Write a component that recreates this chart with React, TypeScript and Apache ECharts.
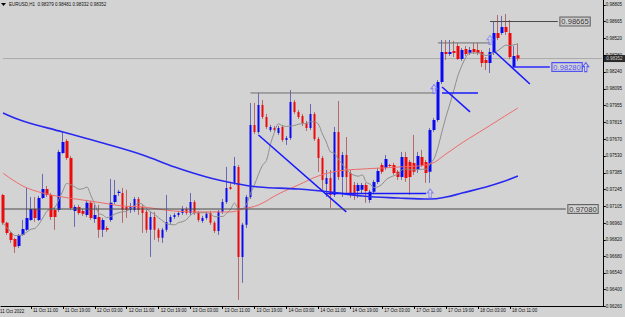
import React, { useEffect, useRef } from "react";
import * as echarts from "echarts";

// ---------- data ----------
const symbolName = "EURUSD,H1";
const sessions: [string, number, number][] = [
  ["11 Oct", 4, 23], ["12 Oct", 0, 23], ["13 Oct", 0, 23], ["14 Oct", 0, 23],
  ["17 Oct", 0, 23], ["18 Oct", 0, 23], ["19 Oct", 0, 23],
];
const slotCount = 151;

const opens = [
  0.97199, 0.96963, 0.96878, 0.96827, 0.96768, 0.96861, 0.96904, 0.96988, 0.97081, 0.96988,
  0.97174, 0.97250, 0.97199, 0.97072, 0.97072, 0.97554, 0.97656, 0.97512, 0.97064, 0.97098,
  0.97064, 0.97030, 0.97132, 0.96996, 0.97013, 0.96904, 0.96920, 0.96988, 0.97140, 0.97216,
  0.97216, 0.97098, 0.97072, 0.97072, 0.97165, 0.97098, 0.97056, 0.96904, 0.97013, 0.96904,
  0.96836, 0.96904, 0.96971, 0.97013, 0.97030, 0.97047, 0.97081, 0.97047, 0.97140, 0.97047,
  0.96979, 0.97005, 0.97047, 0.96963, 0.96895, 0.97056, 0.97140, 0.97267, 0.97301, 0.97436,
  0.96675, 0.96946, 0.97182, 0.97791, 0.97732, 0.97960, 0.97858, 0.97748, 0.97765, 0.97723,
  0.97774, 0.97664, 0.97681, 0.97985, 0.97901, 0.97867, 0.97808, 0.97765, 0.97884, 0.97672,
  0.97512, 0.97292, 0.97343, 0.97199, 0.97732, 0.97351, 0.97537, 0.97385, 0.97284, 0.97233,
  0.97242, 0.97284, 0.97157, 0.97225, 0.97309, 0.97453, 0.97427, 0.97453, 0.97453, 0.97394,
  0.97351, 0.97520, 0.97478, 0.97470, 0.97410, 0.97520, 0.97478, 0.97394, 0.97748, 0.97833,
  0.98154, 0.98408, 0.98391, 0.98416, 0.98458, 0.98348, 0.98433, 0.98399, 0.98433, 0.98424,
  0.98408, 0.98340, 0.98315, 0.98399, 0.98568, 0.98568, 0.98619, 0.98568, 0.98281, 0.98379,
];
const closes = [
  0.96963, 0.96878, 0.96819, 0.96760, 0.96861, 0.96912, 0.97005, 0.97081, 0.97005, 0.97174,
  0.97250, 0.97199, 0.97013, 0.97013, 0.97563, 0.97647, 0.97512, 0.97089, 0.97098, 0.97047,
  0.97039, 0.97132, 0.97005, 0.97030, 0.96904, 0.96988, 0.96904, 0.97132, 0.97199, 0.97225,
  0.97072, 0.97072, 0.97098, 0.97165, 0.97072, 0.97047, 0.96904, 0.97013, 0.96904, 0.96836,
  0.96904, 0.96971, 0.97013, 0.97030, 0.97047, 0.97081, 0.97047, 0.97140, 0.97047, 0.96988,
  0.97005, 0.97039, 0.96963, 0.96895, 0.97056, 0.97140, 0.97258, 0.97250, 0.97444, 0.96675,
  0.96946, 0.97182, 0.97791, 0.97732, 0.97960, 0.97858, 0.97774, 0.97774, 0.97748, 0.97765,
  0.97664, 0.97681, 0.97985, 0.97901, 0.97858, 0.97808, 0.97765, 0.97884, 0.97672, 0.97512,
  0.97326, 0.97343, 0.97199, 0.97732, 0.97351, 0.97537, 0.97351, 0.97216, 0.97191, 0.97284,
  0.97284, 0.97233, 0.97225, 0.97309, 0.97402, 0.97394, 0.97503, 0.97444, 0.97385, 0.97351,
  0.97520, 0.97343, 0.97351, 0.97394, 0.97529, 0.97453, 0.97385, 0.97748, 0.97833, 0.98154,
  0.98408, 0.98391, 0.98408, 0.98399, 0.98348, 0.98424, 0.98391, 0.98424, 0.98408, 0.98399,
  0.98315, 0.98315, 0.98408, 0.98568, 0.98526, 0.98619, 0.98577, 0.98365, 0.98374, 0.98352,
];
const lows = [
  0.96946, 0.96861, 0.96794, 0.96709, 0.96751, 0.96853, 0.96895, 0.96979, 0.96971, 0.96979,
  0.97165, 0.97182, 0.96988, 0.96904, 0.97056, 0.97546, 0.97495, 0.97072, 0.96929, 0.97030,
  0.97022, 0.97013, 0.96988, 0.96963, 0.96836, 0.96844, 0.96887, 0.96971, 0.97123, 0.97191,
  0.96963, 0.97005, 0.97047, 0.97056, 0.97030, 0.96878, 0.96878, 0.96675, 0.96819, 0.96802,
  0.96794, 0.96887, 0.96954, 0.96996, 0.97013, 0.97030, 0.97030, 0.97030, 0.97030, 0.96971,
  0.96963, 0.96988, 0.96946, 0.96878, 0.96861, 0.97039, 0.97123, 0.97242, 0.97284, 0.96312,
  0.96456, 0.96920, 0.97165, 0.97715, 0.97715, 0.97841, 0.97757, 0.97732, 0.97732, 0.97706,
  0.97647, 0.97622, 0.97664, 0.97884, 0.97841, 0.97782, 0.97740, 0.97748, 0.97656, 0.97394,
  0.97242, 0.97182, 0.97089, 0.97182, 0.97326, 0.97182, 0.97216, 0.97174, 0.97157, 0.97174,
  0.97208, 0.97132, 0.97132, 0.97208, 0.97292, 0.97377, 0.97410, 0.97436, 0.97368, 0.97326,
  0.97326, 0.97309, 0.97199, 0.97368, 0.97385, 0.97436, 0.97301, 0.97301, 0.97732, 0.97816,
  0.98137, 0.98340, 0.98374, 0.98365, 0.98340, 0.98332, 0.98374, 0.98382, 0.98391, 0.98382,
  0.98281, 0.98255, 0.98230, 0.98382, 0.98509, 0.98551, 0.98551, 0.98348, 0.98272, 0.98332,
];
const highs = [
  0.97208, 0.96971, 0.96887, 0.96836, 0.96870, 0.96988, 0.97258, 0.97182, 0.97182, 0.97191,
  0.97377, 0.97275, 0.97216, 0.97098, 0.97580, 0.97732, 0.97672, 0.97529, 0.97115, 0.97115,
  0.97081, 0.97157, 0.97149, 0.97115, 0.97115, 0.97005, 0.96937, 0.97334, 0.97326, 0.97242,
  0.97258, 0.97242, 0.97132, 0.97182, 0.97182, 0.97115, 0.97072, 0.97056, 0.97056, 0.96920,
  0.96920, 0.97199, 0.97030, 0.97047, 0.97064, 0.97106, 0.97098, 0.97216, 0.97157, 0.97064,
  0.97022, 0.97056, 0.97064, 0.96979, 0.97072, 0.97165, 0.97436, 0.97309, 0.97520, 0.97453,
  0.96963, 0.97199, 0.97977, 0.97977, 0.98061, 0.98002, 0.97884, 0.97791, 0.97782, 0.97782,
  0.97791, 0.97698, 0.98086, 0.98002, 0.97917, 0.97884, 0.97825, 0.97968, 0.97901, 0.97689,
  0.97529, 0.97410, 0.97410, 0.97774, 0.97993, 0.97563, 0.97689, 0.97410, 0.97309, 0.97301,
  0.97301, 0.97301, 0.97242, 0.97326, 0.97427, 0.97470, 0.97537, 0.97461, 0.97470, 0.97410,
  0.97563, 0.97563, 0.97495, 0.97706, 0.97563, 0.97580, 0.97495, 0.97765, 0.97850, 0.98171,
  0.98509, 0.98509, 0.98509, 0.98501, 0.98484, 0.98441, 0.98458, 0.98450, 0.98484, 0.98484,
  0.98424, 0.98365, 0.98441, 0.98661, 0.98720, 0.98712, 0.98729, 0.98678, 0.98458, 0.98481,
];

const xTickLabels = [
  "11 Oct 11:00", "11 Oct 19:00", "12 Oct 03:00", "12 Oct 11:00", "12 Oct 19:00",
  "13 Oct 03:00", "13 Oct 11:00", "13 Oct 19:00", "14 Oct 03:00", "14 Oct 11:00",
  "14 Oct 19:00", "17 Oct 03:00", "17 Oct 11:00", "17 Oct 19:00", "18 Oct 03:00",
  "18 Oct 11:00",
];
const firstDateLabel = "11 Oct 2022";
const yTickValues = [
  0.98805, 0.98665, 0.9852, 0.9838, 0.9824, 0.98095, 0.97955, 0.97815, 0.9767, 0.9753,
  0.97385, 0.97245, 0.97105, 0.9696, 0.9682, 0.9668, 0.9654, 0.964, 0.9626,
];
const yMin = 0.9626;
const yMax = 0.98847;

// moving averages: [slot index, price]
const redMA = [
  [0, 0.97384], [5, 0.97274], [10, 0.97215], [15, 0.97181], [20, 0.97156], [25, 0.97131],
  [30, 0.97105], [35, 0.97097], [43, 0.97063], [51, 0.97055], [57, 0.97055], [60, 0.9708],
  [64, 0.97114], [69, 0.97207], [74, 0.97283], [79, 0.97359], [84, 0.97401], [90, 0.97418],
  [99, 0.97435], [107, 0.97461], [111, 0.97546], [115, 0.97639], [121, 0.97765],
  [125, 0.9785], [129, 0.97934],
];
const blueMA = [
  [0, 0.97892], [5, 0.97824], [15, 0.97731], [25, 0.97638], [35, 0.97537], [43, 0.97435],
  [51, 0.97351], [59, 0.97291], [64, 0.97266], [74, 0.97249], [82, 0.97224], [90, 0.9719],
  [99, 0.97173], [107, 0.97164], [111, 0.97181], [115, 0.97215], [121, 0.97266],
  [125, 0.97308], [129, 0.97359],
];
const fastMAPeriod = 8;

// drawn objects
const blueTrendLines = [
  [[64, 0.97706], [86, 0.97056]],
  [[81, 0.97212], [106, 0.97212]],
  [[110, 0.98061], [119, 0.98061]],
  [[110, 0.98112], [117, 0.97901]],
  [[123, 0.98416], [132, 0.98137]],
];
const grayLines = [
  [[62, 0.98061], [108, 0.98061]],
  [[109, 0.98484], [122, 0.98484]],
];
const levelValues = [0.98665, 0.9828, 0.9708];
const levelFrom = [122, 128, 0];
const levelTo = [139, 137, 141];
const levelColors = ["#4a4a4a", "#2a2aff", "#4a4a4a"];
const arrowPoints = [[107, 0.97212], [108, 0.98095], [122, 0.98509], [146, 0.9828]];
const arrowColors = ["#7070ff", "#7070ff", "#8080ff", "#3a3aff"];

// ---------- chart ----------
const BG = "#d3d3d3";
const FONT = "'Liberation Sans', Arial, sans-serif";
const SMALL = 4.5;

function buildCategories(): string[] {
  const out: string[] = [];
  for (const [day, h0, h1] of sessions) {
    for (let h = h0; h <= h1; h++) {
      out.push(`${day} ${String(h).padStart(2, "0")}:00`);
    }
  }
  return out.slice(0, slotCount);
}

export default function App() {
  const ref = useRef<HTMLDivElement>(null);

  useEffect(() => {
    if (!ref.current) return;
    const chart = echarts.init(ref.current, null, { renderer: "svg" });
    const categories = buildCategories();
    const candles = opens.map((o, k) => [o, closes[k], lows[k], highs[k]]);
    const fastMA = closes.map((_, k) => {
      const s = Math.max(0, k - fastMAPeriod + 1);
      const w = closes.slice(s, k + 1);
      return [k, w.reduce((a, b) => a + b, 0) / w.length];
    });
    const n = closes.length - 1;
    const bid = closes[n];
    const isTick = (_i: number, v: string) => xTickLabels.includes(v);
    const hidden = "rgba(0,0,0,0)";

    const series: any[] = [
      {
        type: "candlestick",
        data: candles,
        barWidth: 1,
        silent: true,
        z: 2,
        itemStyle: {
          color: "#6a6ab4", color0: "#b46a6a",
          borderColor: "#6a6ab4", borderColor0: "#b46a6a", borderWidth: 1,
        },
      },
      {
        type: "candlestick",
        data: candles,
        barWidth: 3,
        silent: true,
        z: 3,
        itemStyle: {
          color: "#0a0af0", color0: "#ee0a0a",
          borderColor: "#0a0af0", borderColor0: "#ee0a0a", borderWidth: 0,
        },
      },
      {
        type: "line", data: [[0, bid], [slotCount - 1, bid]], symbol: "none", silent: true, z: 1,
        lineStyle: { color: "#ababab", width: 1 },
      },
      {
        type: "line", data: fastMA, symbol: "none", smooth: 0.3, silent: true, z: 4,
        lineStyle: { color: "#8e8e8e", width: 1 },
      },
      {
        type: "line", data: redMA, symbol: "none", smooth: 0.4, silent: true, z: 4,
        lineStyle: { color: "#ee6a6a", width: 1 },
      },
      {
        type: "line", data: blueMA, symbol: "none", smooth: 0.4, silent: true, z: 4,
        lineStyle: { color: "#2828f0", width: 1.6 },
      },
    ];

    grayLines.forEach((pts) =>
      series.push({
        type: "line", data: pts, symbol: "none", silent: true, z: 5,
        lineStyle: { color: "#6e6e6e", width: 1 },
      })
    );
    blueTrendLines.forEach((pts) =>
      series.push({
        type: "line", data: pts, symbol: "none", silent: true, z: 6,
        lineStyle: { color: "#1818ff", width: 1.5 },
      })
    );
    levelValues.forEach((v, k) =>
      series.push({
        type: "line",
        data: [[levelFrom[k], v], [levelTo[k], v]],
        symbol: "none", silent: true, z: 6,
        lineStyle: { color: levelColors[k], width: k === 1 ? 1.5 : 1 },
      })
    );
    // level labels (boxes) anchored at each level's end point
    series.push({
      type: "scatter",
      silent: true, z: 8, symbolSize: 1, clip: false,
      itemStyle: { color: hidden },
      data: levelValues.map((v, k) => ({
        value: [levelTo[k], v],
        label: {
          show: true, position: "right", distance: 2,
          formatter: () => v.toFixed(5),
          color: k === 1 ? "#2a2aff" : "#000",
          fontSize: 7.6, lineHeight: 7, fontFamily: FONT,
          borderColor: levelColors[k], borderWidth: 1,
          backgroundColor: BG, padding: [1, 1, 0, 1],
        },
      })),
    });
    // current price box on the price axis
    series.push({
      type: "scatter",
      silent: true, z: 9, symbolSize: 1, clip: false,
      itemStyle: { color: hidden },
      data: [{
        value: [slotCount - 1, bid],
        label: {
          show: true, position: "right", distance: 1,
          formatter: () => bid.toFixed(5),
          color: "#fff", backgroundColor: "#000",
          fontSize: SMALL, lineHeight: 5, fontFamily: FONT, padding: [1, 3, 1, 3],
        },
      }],
    });
    series.push({
      type: "scatter",
      data: arrowPoints.map((p, k) => ({
        value: p,
        itemStyle: { color: "none", borderColor: arrowColors[k], borderWidth: 1 },
      })),
      symbol: "path://M5 0 L10 5 L7 5 L7 11 L3 11 L3 5 L0 5 Z",
      symbolSize: [6, 9],
      silent: true, z: 7, clip: false,
    });

    chart.setOption({
      animation: false,
      backgroundColor: BG,
      grid: { left: 1, right: 20, top: 0, bottom: 11, containLabel: false },
      xAxis: {
        type: "category",
        data: categories,
        boundaryGap: true,
        axisLine: { show: true, lineStyle: { color: "#000", width: 1 } },
        axisTick: { show: true, alignWithLabel: true, interval: isTick, length: 3, lineStyle: { color: "#000" } },
        axisLabel: {
          interval: isTick, align: "left", margin: 2, padding: [0, 0, 0, 2],
          fontSize: SMALL, fontFamily: FONT, color: "#111",
        },
        splitLine: { show: false },
      },
      yAxis: {
        type: "value",
        position: "right",
        min: yMin, max: yMax, scale: true,
        axisLine: { show: true, lineStyle: { color: "#000", width: 1 } },
        axisTick: { show: true, length: 2, customValues: yTickValues, lineStyle: { color: "#000" } },
        axisLabel: {
          customValues: yTickValues, margin: 2,
          formatter: (v: number) => v.toFixed(5),
          fontSize: SMALL, fontFamily: FONT, color: "#111",
        },
        splitLine: { show: false },
      },
      graphic: [
        { type: "polygon", shape: { points: [[1, 3], [6, 3], [3.5, 6]] }, style: { fill: "#000" } },
        {
          type: "text", x: 9, y: 2,
          style: {
            text: `${symbolName}  ${opens[n].toFixed(5)} ${highs[n].toFixed(5)} ${lows[n].toFixed(5)} ${closes[n].toFixed(5)}`,
            fontSize: SMALL, fontFamily: FONT, fill: "#111",
          },
        },
        {
          type: "text", x: 0, y: 309,
          style: { text: firstDateLabel, fontSize: SMALL, fontFamily: FONT, fill: "#111" },
        },
      ],
      series,
    });
    return () => chart.dispose();
  }, []);

  return (
    <div
      ref={ref}
      style={{ position: "fixed", left: 0, top: 0, width: 625, height: 317, background: BG }}
    />
  );
}
